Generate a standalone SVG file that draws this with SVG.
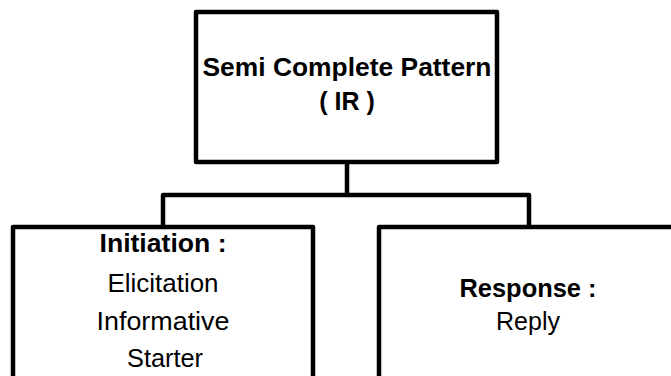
<svg xmlns="http://www.w3.org/2000/svg" width="671" height="376" viewBox="0 0 671 376">
<style>
.box{fill:#fff;stroke:#000;stroke-width:4.5;stroke-linejoin:round}
.con{fill:none;stroke:#000;stroke-width:4.5;stroke-linejoin:round}
.b{font-family:"Liberation Sans",Arial,sans-serif;font-weight:bold;font-size:25px;text-anchor:middle;fill:#000}
.r{font-family:"Liberation Sans",Arial,sans-serif;font-size:25px;text-anchor:middle;fill:#000}
</style>
<rect width="671" height="376" fill="#fff"/>
<g id="connectors">
<path class="con" d="M347,162 V195"/>
<path class="con" d="M163,227 V195 H529 V227"/>
</g>
<g id="root">
<rect class="box" x="196" y="12" width="301" height="150"/>
<text class="b" x="347" y="76" textLength="289" lengthAdjust="spacingAndGlyphs">Semi Complete Pattern</text>
<text class="b" x="347" y="110">( IR )</text>
</g>
<g id="initiation">
<rect class="box" x="13" y="227" width="300" height="170"/>
<text class="b" x="163" y="252" textLength="127" lengthAdjust="spacingAndGlyphs">Initiation :</text>
<text class="r" x="163" y="292" textLength="111" lengthAdjust="spacingAndGlyphs">Elicitation</text>
<text class="r" x="163" y="330" textLength="133" lengthAdjust="spacingAndGlyphs">Informative</text>
<text class="r" x="165" y="367" textLength="76" lengthAdjust="spacingAndGlyphs">Starter</text>
</g>
<g id="response">
<rect class="box" x="379" y="227" width="300" height="170"/>
<text class="b" x="528" y="297" textLength="137" lengthAdjust="spacingAndGlyphs">Response :</text>
<text class="r" x="528" y="330">Reply</text>
</g>
</svg>
